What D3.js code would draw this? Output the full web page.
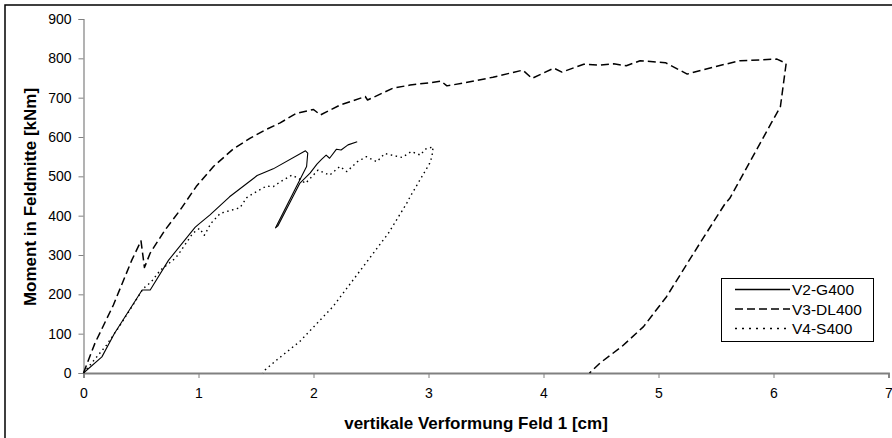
<!DOCTYPE html>
<html>
<head>
<meta charset="utf-8">
<script src="https://cdn.jsdelivr.net/npm/d3@7"></script>
<style>
  html, body { margin: 0; padding: 0; background: #fff; }
  svg { display: block; font-family: "Liberation Sans", Arial, sans-serif; }
</style>
</head>
<body>
<svg id="chart" width="892" height="438"></svg>
<script>
// Deflection [cm] and mid-span moment [kNm] for each test beam
const v2Defl   = [0, 0.16, 0.27, 0.51, 0.58, 0.74, 0.97, 1.0, 1.10, 1.27, 1.51, 1.65, 1.93, 1.95, 1.94, 1.67, 1.69, 1.88, 1.97, 2.03, 2.07, 2.11, 2.14, 2.20, 2.24, 2.30, 2.38];
const v2Moment = [0, 41, 101, 211, 211, 287, 370, 378, 402, 448, 502, 519, 565, 559, 525, 369, 374, 482, 508, 531, 543, 554, 546, 569, 567, 580, 588];

const v3Defl   = [0, 0.10, 0.26, 0.42, 0.50, 0.53, 0.58, 0.71, 0.84, 0.98, 1.13, 1.30, 1.45, 1.58, 1.71, 1.85, 2.0, 2.06, 2.23, 2.45, 2.47, 2.58, 2.69, 2.84, 3.01, 3.11, 3.16, 3.30, 3.56, 3.82, 3.90, 4.09, 4.16, 4.35, 4.49, 4.61, 4.72, 4.84, 5.06, 5.25, 5.48, 5.71, 6.03, 6.11, 6.06, 5.98, 5.62, 5.58, 5.36, 5.07, 4.87, 4.68, 4.49, 4.40];
const v3Moment = [0, 76, 173, 287, 336, 268, 305, 364, 414, 474, 525, 569, 597, 618, 636, 660, 670, 656, 681, 703, 694, 709, 724, 732, 738, 742, 730, 737, 752, 770, 749, 775, 765, 785, 783, 786, 781, 794, 789, 760, 778, 794, 798, 787, 677, 635, 444, 431, 330, 194, 118, 67, 25, 0];

const v4Defl   = [0, 0.20, 0.32, 0.43, 0.52, 0.59, 0.67, 0.80, 0.84, 0.95, 1.01, 1.05, 1.11, 1.19, 1.36, 1.42, 1.48, 1.59, 1.65, 1.71, 1.81, 1.87, 1.93, 2.04, 2.14, 2.23, 2.29, 2.38, 2.46, 2.55, 2.62, 2.77, 2.85, 2.93, 2.97, 3.04, 3.03, 3.01, 2.84, 2.81, 2.65, 2.40, 2.17, 1.88, 1.68, 1.58, 1.56];
const v4Moment = [0, 71, 122, 173, 215, 232, 262, 292, 308, 355, 368, 350, 381, 406, 420, 446, 457, 475, 474, 486, 503, 495, 482, 516, 503, 525, 512, 537, 550, 537, 558, 548, 563, 554, 569, 575, 550, 533, 448, 431, 355, 258, 169, 80, 33, 8, 0];

const seriesNames = ["V2-G400", "V3-DL400", "V4-S400"];
const xTicks = [0, 1, 2, 3, 4, 5, 6, 7];
const yTicks = [0, 100, 200, 300, 400, 500, 600, 700, 800, 900];

const svg = d3.select("#chart");

// outer chart frame (runs past the right and bottom edges)
svg.append("rect")
  .attr("x", 5).attr("y", 5)
  .attr("width", 900).attr("height", 450)
  .attr("fill", "none").attr("stroke", "#000").attr("stroke-width", 1.5);

const x = d3.scaleLinear().domain([0, 7]).range([83.5, 888.5]);
const y = d3.scaleLinear().domain([0, 900]).range([373, 19]);

// y axis
const gy = svg.append("g")
  .attr("transform", `translate(${x(0)},0)`)
  .call(d3.axisLeft(y).tickValues(yTicks).tickSize(5).tickPadding(7));
gy.select(".domain").attr("stroke", "#808080").attr("stroke-width", 1.2);
gy.selectAll(".tick line").attr("stroke", "#808080");
gy.selectAll(".tick text").attr("font-size", 14).attr("fill", "#000")
  .attr("font-family", "Liberation Sans, Arial, sans-serif");

// x axis
const gx = svg.append("g")
  .attr("transform", `translate(0,${y(0)})`)
  .call(d3.axisBottom(x).tickValues(xTicks).tickSize(5).tickPadding(10).tickFormat(d3.format("d")));
gx.select(".domain").attr("stroke", "#808080").attr("stroke-width", 1.8);
gx.selectAll(".tick line").attr("stroke", "#808080");
gx.selectAll(".tick text").attr("font-size", 14).attr("fill", "#000")
  .attr("font-family", "Liberation Sans, Arial, sans-serif");

// axis titles
svg.append("text")
  .attr("x", 476).attr("y", 429)
  .attr("text-anchor", "middle")
  .attr("font-size", 17).attr("font-weight", "bold")
  .text("vertikale Verformung Feld 1 [cm]");

svg.append("text")
  .attr("transform", "translate(36,197) rotate(-90)")
  .attr("text-anchor", "middle")
  .attr("font-size", 17).attr("font-weight", "bold")
  .text("Moment in Feldmitte [kNm]");

// curves
const line = d3.line().x(d => x(d[0])).y(d => y(d[1]));
const styles = [
  { dash: null,    width: 1.1 },
  { dash: "8,4",   width: 1.5 },
  { dash: "1.5,3.5", width: 1.4 }
];
const series = [
  d3.zip(v2Defl, v2Moment),
  d3.zip(v3Defl, v3Moment),
  d3.zip(v4Defl, v4Moment)
];
series.forEach((pts, i) => {
  svg.append("path")
    .datum(pts)
    .attr("d", line)
    .attr("fill", "none")
    .attr("stroke", "#000")
    .attr("stroke-width", styles[i].width)
    .attr("stroke-dasharray", styles[i].dash)
    .attr("stroke-linejoin", "round");
});

// legend
const lg = svg.append("g");
lg.append("rect")
  .attr("x", 721.5).attr("y", 278.5)
  .attr("width", 152).attr("height", 63)
  .attr("fill", "#fff").attr("stroke", "#000").attr("stroke-width", 1);
seriesNames.forEach((name, i) => {
  const cy = 289.5 + i * 19.5;
  lg.append("line")
    .attr("x1", 735).attr("x2", 790)
    .attr("y1", cy).attr("y2", cy)
    .attr("stroke", "#000")
    .attr("stroke-width", styles[i].width + 0.2)
    .attr("stroke-dasharray", i === 2 ? "2,5" : styles[i].dash);
  lg.append("text")
    .attr("x", 792).attr("y", cy + 5.5)
    .attr("font-size", 15.5)
    .text(name);
});
</script>
</body>
</html>
